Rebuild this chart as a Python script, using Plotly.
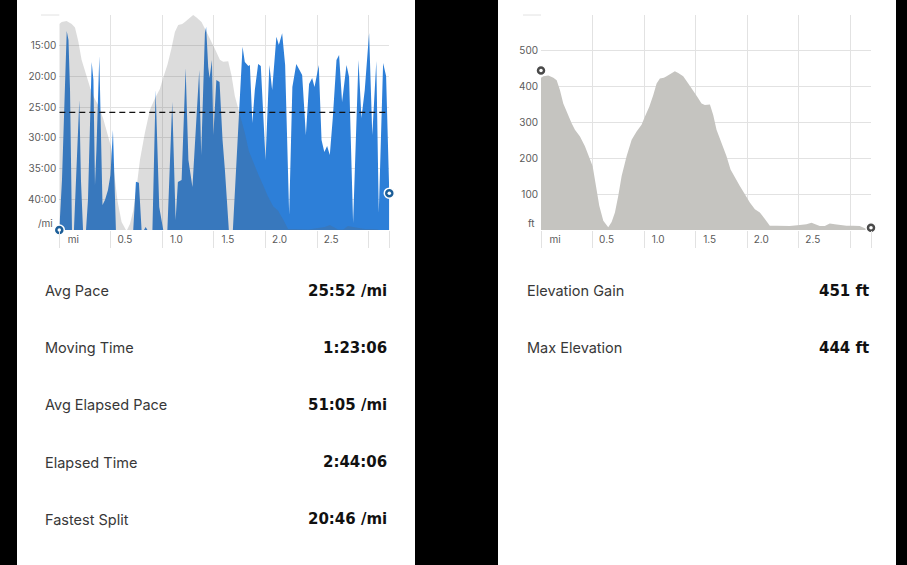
import plotly.graph_objects as go

# ---------------- data ----------------
pace_miles = [0.000, 0.026, 0.072, 0.089, 0.104, 0.123, 0.142, 0.167, 0.194, 0.210,
              0.230, 0.259, 0.278, 0.314, 0.331, 0.346, 0.360, 0.388, 0.404, 0.419,
              0.443, 0.472, 0.496, 0.520, 0.535, 0.549, 0.717, 0.743, 0.772, 0.798,
              0.821, 0.837, 0.855, 0.903, 0.934, 0.969, 1.008, 1.048, 1.095, 1.128,
              1.150, 1.186, 1.225, 1.252, 1.291, 1.325, 1.357, 1.376, 1.412, 1.424,
              1.444, 1.457, 1.480, 1.494, 1.523, 1.554, 1.583, 1.606, 1.644, 1.683,
              1.777, 1.799, 1.833, 1.848, 1.872, 1.896, 1.928, 1.954, 2.000, 2.037,
              2.064, 2.105, 2.129, 2.161, 2.190, 2.229, 2.260, 2.298, 2.355, 2.391,
              2.422, 2.452, 2.475, 2.516, 2.543, 2.570, 2.597, 2.623, 2.652, 2.688,
              2.713, 2.742, 2.785, 2.810, 2.849, 2.901, 2.930, 2.962, 3.004, 3.035,
              3.074, 3.098, 3.140, 3.169, 3.200]
pace_min = [45.0, 36.86, 12.60, 14.07, 22.21, 45.0, 45.0, 33.6, 23.84, 36.86,
            45.0, 45.0, 40.1, 17.65, 20.58, 37.67, 31.98, 16.67, 27.09, 40.93,
            40.1, 38.49, 36.05, 28.72, 36.86, 45.0, 45.0, 37.14, 37.30, 45.0,
            45.0, 44.5, 45.0, 45.0, 22.21, 41.26, 45.0, 45.0, 24.11, 43.37,
            37.18, 36.86, 18.63, 33.6, 38.0, 28.72, 18.95, 32.79, 12.93, 11.95,
            18.47, 20.26, 17.33, 29.53, 20.58, 20.91, 30.35, 35.23, 45.0, 45.0,
            15.16, 17.65, 18.30, 18.14, 27.58, 22.21, 17.98, 18.30, 33.6, 18.14,
            22.21, 13.53, 14.88, 12.98, 18.14, 42.56, 21.72, 17.98, 19.77, 29.53,
            21.23, 20.26, 21.72, 18.14, 30.35, 32.30, 31.33, 32.79, 26.77, 17.33,
            16.51, 24.16, 18.14, 20.09, 43.86, 17.33, 26.77, 22.21, 12.93, 29.53,
            17.49, 42.23, 17.81, 19.93, 39.0]

elev_miles = [0.000, 0.023, 0.071, 0.120, 0.152, 0.184, 0.216, 0.249, 0.297, 0.329,
              0.378, 0.426, 0.468, 0.501, 0.533, 0.565, 0.604, 0.652, 0.685, 0.717,
              0.749, 0.782, 0.830, 0.879, 0.927, 0.975, 1.008, 1.050, 1.089, 1.121,
              1.153, 1.192, 1.218, 1.250, 1.298, 1.331, 1.379, 1.428, 1.476, 1.515,
              1.557, 1.589, 1.638, 1.670, 1.702, 1.751, 1.799, 1.838, 1.880, 1.928,
              1.977, 2.025, 2.074, 2.122, 2.171, 2.219, 2.284, 2.348, 2.413, 2.510,
              2.574, 2.623, 2.655, 2.703, 2.752, 2.800, 2.849, 2.897, 2.962, 3.027,
              3.091, 3.140, 3.200]
elev_ft = [425, 429, 431, 425, 418, 390, 353, 330, 298, 280,
           261, 234, 201, 178, 123, 68, 26, 8, 22, 49,
           95, 151, 206, 252, 275, 294, 317, 344, 377, 409,
           423, 425, 429, 435, 443, 438, 429, 409, 390, 372,
           353, 349, 350, 321, 280, 243, 206, 169, 146, 123,
           100, 77, 58, 49, 31, 12, 12, 12, 11, 14,
           16, 20, 16, 11, 11, 18, 16, 14, 12, 12,
           11, 5, 3]

total_miles = 3.2
avg_pace = 25 + 52 / 60
pace_end_markers = [45.0, 39.0]
elev_end_markers = [445, 6]
bg_floor_ft = 10  # elevation drawn at the bottom edge of the pace chart

pace_ticks = [10, 15, 20, 25, 30, 35, 40, 45]
pace_tick_text = ["", "15:00", "20:00", "25:00", "30:00", "35:00", "40:00", ""]
elev_ticks = [0, 100, 200, 300, 400, 500, 600]
elev_tick_text = ["", "100", "200", "300", "400", "500", ""]
mile_ticks = [0, 0.5, 1.0, 1.5, 2.0, 2.5, 3.0, 3.2]
mile_tick_text = ["mi", "0.5", "1.0", "1.5", "2.0", "2.5", "", ""]

left_stat_labels = ["Avg Pace", "Moving Time", "Avg Elapsed Pace", "Elapsed Time", "Fastest Split"]
left_stat_values = ["25:52 /mi", "1:23:06", "51:05 /mi", "2:44:06", "20:46 /mi"]
right_stat_labels = ["Elevation Gain", "Max Elevation"]
right_stat_values = ["451 ft", "444 ft"]

# ---------------- layout helpers ----------------
W, H = 907, 565
def px(x):
    return x / W
def py(y):
    return 1 - y / H

PLOT_TOP, PLOT_BOT = 15, 230
L_X0, L_X1 = 59.3, 389.3
R_X0, R_X1 = 541, 871

BLUE = "rgb(45,127,216)"
GRID = "#e2e2e2"
TICKFONT = dict(family="Inter, Roboto, sans-serif", size=10, color="#5a5a5a")

fig = go.Figure()

# pace area
fig.add_trace(go.Scatter(
    x=[0] + pace_miles + [total_miles], y=[45] + pace_min + [45],
    fill="toself", fillcolor=BLUE, mode="lines", line=dict(width=0),
    xaxis="x", yaxis="y", hoverinfo="skip", showlegend=False))
# elevation backdrop drawn over the pace area, translucent
fig.add_trace(go.Scatter(
    x=elev_miles, y=elev_ft, fill="tozeroy", fillcolor="rgba(96,96,96,0.22)",
    mode="lines", line=dict(width=0), xaxis="x", yaxis="y3",
    hoverinfo="skip", showlegend=False))
# pace end markers (on a top overlay axis so they draw last)
fig.add_trace(go.Scatter(
    x=[0, total_miles], y=pace_end_markers, mode="markers", cliponaxis=False,
    marker=dict(size=10, color="#1c5e98", line=dict(color="white", width=1.5)),
    xaxis="x", yaxis="y4", showlegend=False, hoverinfo="skip"))
fig.add_trace(go.Scatter(
    x=[0, total_miles], y=pace_end_markers, mode="markers", cliponaxis=False,
    marker=dict(size=3.5, color="white"),
    xaxis="x", yaxis="y4", showlegend=False, hoverinfo="skip"))

# elevation area
fig.add_trace(go.Scatter(
    x=elev_miles, y=elev_ft, fill="tozeroy", fillcolor="#c5c4c0",
    mode="lines", line=dict(width=0, color="#c5c4c0"),
    xaxis="x2", yaxis="y2", hoverinfo="skip", showlegend=False))
fig.add_trace(go.Scatter(
    x=[0, total_miles], y=elev_end_markers, mode="markers", cliponaxis=False,
    marker=dict(size=10, color="#4a4a4a", line=dict(color="white", width=1.5)),
    xaxis="x2", yaxis="y2", showlegend=False, hoverinfo="skip"))
fig.add_trace(go.Scatter(
    x=[0, total_miles], y=elev_end_markers, mode="markers", cliponaxis=False,
    marker=dict(size=3.5, color="white"),
    xaxis="x2", yaxis="y2", showlegend=False, hoverinfo="skip"))

xcommon = dict(range=[0, total_miles], tickvals=mile_ticks, ticktext=mile_tick_text,
               showgrid=True, gridcolor=GRID, gridwidth=1, zeroline=False,
               showline=False, ticks="outside", ticklen=17, tickcolor=GRID, tickwidth=1,
               ticklabelshift=14, ticklabelstandoff=-17, tickfont=TICKFONT, fixedrange=True)
ydom = [py(PLOT_BOT), py(PLOT_TOP)]

fig.update_layout(
    width=W, height=H,
    margin=dict(l=0, r=0, t=0, b=0),
    paper_bgcolor="black", plot_bgcolor="rgba(0,0,0,0)",
    showlegend=False,
    xaxis=dict(domain=[px(L_X0), px(L_X1)], anchor="y", **xcommon),
    yaxis=dict(domain=ydom, anchor="x", range=[45, 10], tickvals=pace_ticks,
               ticktext=pace_tick_text, showgrid=True, gridcolor=GRID, zeroline=False,
               showline=False, ticks="", tickfont=TICKFONT, ticklabelstandoff=2,
               fixedrange=True),
    yaxis3=dict(overlaying="y", anchor="x", range=[bg_floor_ft, max(elev_ft)], visible=False,
                fixedrange=True),
    yaxis4=dict(overlaying="y", anchor="x", range=[45, 10], visible=False, fixedrange=True),
    xaxis2=dict(domain=[px(R_X0), px(R_X1)], anchor="y2", **xcommon),
    yaxis2=dict(domain=ydom, anchor="x2", range=[0, 600], tickvals=elev_ticks,
                ticktext=elev_tick_text, showgrid=True, gridcolor=GRID, zeroline=False,
                showline=False, ticks="", tickfont=TICKFONT, ticklabelstandoff=2,
                fixedrange=True),
)

shapes = [
    dict(type="rect", xref="paper", yref="paper", x0=px(17), x1=px(415), y0=0, y1=1,
         fillcolor="white", line=dict(width=0), layer="below"),
    dict(type="rect", xref="paper", yref="paper", x0=px(498), x1=px(896), y0=0, y1=1,
         fillcolor="white", line=dict(width=0), layer="below"),
    dict(type="line", xref="paper", yref="paper", x0=px(41), x1=px(L_X0), y0=py(PLOT_TOP), y1=py(PLOT_TOP),
         line=dict(color=GRID, width=1), layer="below"),
    dict(type="line", xref="paper", yref="paper", x0=px(523), x1=px(R_X0), y0=py(PLOT_TOP), y1=py(PLOT_TOP),
         line=dict(color=GRID, width=1), layer="below"),
    dict(type="line", xref="x", yref="y", x0=0, x1=total_miles, y0=avg_pace, y1=avg_pace,
         line=dict(color="#111", width=1.2, dash="6px,4px"), layer="above"),
]
fig.update_layout(shapes=shapes)

ann = []
ann.append(dict(xref="paper", yref="paper", x=px(54.5), y=py(222.7), text="/mi", showarrow=False,
                xanchor="right", yanchor="middle", font=TICKFONT))
ann.append(dict(xref="paper", yref="paper", x=px(537), y=py(222.7), text="ft", showarrow=False,
                xanchor="right", yanchor="middle", font=TICKFONT))
row_y = [290.7, 347.5, 404.7, 462, 519.3]
LABEL_FONT = dict(family="Inter, Roboto, sans-serif", size=14.5, color="#383838")
VALUE_FONT = dict(family="DejaVu Sans, sans-serif", size=15, color="#111", weight=700)
for lab, val, yy in zip(left_stat_labels, left_stat_values, row_y):
    ann.append(dict(xref="paper", yref="paper", x=px(42.7), y=py(yy), text=lab, showarrow=False,
                    xanchor="left", yanchor="middle", font=LABEL_FONT))
    ann.append(dict(xref="paper", yref="paper", x=px(388.5), y=py(yy), text=val, showarrow=False,
                    xanchor="right", yanchor="middle", font=VALUE_FONT))
for lab, val, yy in zip(right_stat_labels, right_stat_values, row_y):
    ann.append(dict(xref="paper", yref="paper", x=px(525), y=py(yy), text=lab, showarrow=False,
                    xanchor="left", yanchor="middle", font=LABEL_FONT))
    ann.append(dict(xref="paper", yref="paper", x=px(870.5), y=py(yy), text=val, showarrow=False,
                    xanchor="right", yanchor="middle", font=VALUE_FONT))
fig.update_layout(annotations=ann)

fig.write_html("out.html", config={"displayModeBar": False, "staticPlot": True},
               post_script="document.body.style.margin='0';document.body.style.overflow='hidden';")
